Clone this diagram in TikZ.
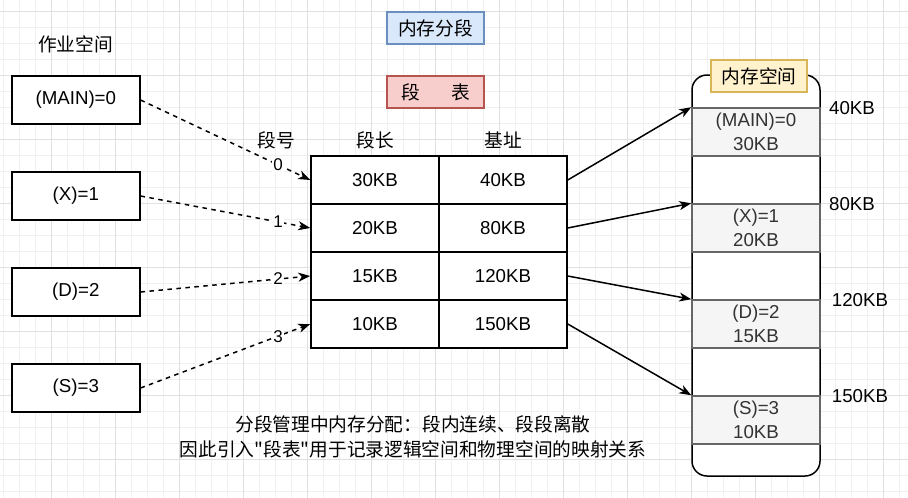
\documentclass[tikz,border=0pt]{standalone}
\usepackage{fontspec}
\setmainfont{Liberation Sans}
\newfontfamily\cjk{Noto Sans CJK SC}
\usetikzlibrary{arrows.meta}
\definecolor{blueF}{HTML}{DAE8FC}
\definecolor{blueD}{HTML}{6C8EBF}
\definecolor{redF}{HTML}{F8CECC}
\definecolor{redD}{HTML}{B85450}
\definecolor{yelF}{HTML}{FFF2CC}
\definecolor{yelD}{HTML}{D6B656}
\definecolor{segF}{HTML}{F5F5F5}
\definecolor{segD}{HTML}{666666}
\definecolor{segT}{HTML}{333333}
\tikzset{
  gridminor/.style={draw=black!6, line width=0.8pt},
  gridmajor/.style={draw=black!12, line width=0.8pt},
  txt/.style={font=\fontsize{18.7}{24}\selectfont, inner sep=0pt},
  cjktxt/.style={font=\cjk\fontsize{18.7}{24}\selectfont, inner sep=0pt},
  jobbox/.style={draw, line width=1.5pt, minimum width=128pt, minimum height=48pt, inner sep=0pt, font=\fontsize{18.7}{24}\selectfont, fill=white},
  cell/.style={draw, line width=1.5pt, minimum width=128pt, minimum height=48pt, inner sep=0pt, font=\fontsize{18.7}{24}\selectfont, fill=white},
  seg/.style={draw=segD, fill=segF, text=segT, line width=1.5pt, minimum width=128pt, minimum height=48pt, inner sep=0pt, align=center, font=\fontsize{18.7}{24}\selectfont},
  titlebox/.style={line width=1.5pt, minimum width=97pt, minimum height=32pt, inner sep=0pt, font=\cjk\fontsize{18.7}{24}\selectfont},
  dasharrow/.style={line width=1.5pt, dash pattern=on 4.5pt off 4.5pt, -{Stealth[length=12pt,width=9pt,inset=3.5pt]}},
  solidarrow/.style={line width=1.5pt, -{Stealth[length=12pt,width=9pt,inset=3.5pt]}},
  elabel/.style={fill=white, inner sep=1pt, font=\fontsize{17}{20}\selectfont},
}
\begin{document}
\begin{tikzpicture}[x=1pt,y=-1pt]
\useasboundingbox (0,0) rectangle (908,498);
\fill[white] (0,0) rectangle (908,498);
% grid
\foreach \i in {0,...,56} {
  \pgfmathsetmacro\xx{3.7+16*\i}
  \draw[gridminor] (\xx,0) -- (\xx,498);
}
\foreach \i in {0,...,30} {
  \pgfmathsetmacro\yy{11.7+16*\i}
  \draw[gridminor] (0,\yy) -- (908,\yy);
}
\foreach \i in {0,...,13} {
  \pgfmathsetmacro\xx{51.7+64*\i}
  \draw[gridmajor] (\xx,0) -- (\xx,498);
}
\foreach \i in {0,...,7} {
  \pgfmathsetmacro\yy{11.7+64*\i}
  \draw[gridmajor] (0,\yy) -- (908,\yy);
}

% titles
\node[titlebox, draw=blueD, fill=blueF] (t1) at (435.5,28) {内存分段};
\node[titlebox, draw=redD, fill=redF] (t2) at (435.5,92) {段\hspace{31.5pt}表};
\node[cjktxt] (job) at (75.5,44) {作业空间};

% job boxes
\node[jobbox] (j0) at (75.8,100) {(MAIN)=0};
\node[jobbox] (j1) at (75.8,196) {(X)=1};
\node[jobbox] (j2) at (75.8,292) {(D)=2};
\node[jobbox] (j3) at (75.8,388) {(S)=3};

% headers
\node[cjktxt] (h0) at (276,140) {段号};
\node[cjktxt] (h1) at (375,140) {段长};
\node[cjktxt] (h2) at (503,140) {基址};

% table
\node[cell] (l0) at (375,180) {30KB};
\node[cell] (b0) at (503,180) {40KB};
\node[cell] (l1) at (375,228) {20KB};
\node[cell] (b1) at (503,228) {80KB};
\node[cell] (l2) at (375,276) {15KB};
\node[cell] (b2) at (503,276) {120KB};
\node[cell] (l3) at (375,324) {10KB};
\node[cell] (b3) at (503,324) {150KB};

% memory space
\node[draw, line width=1.5pt, rounded corners=15pt, minimum width=128pt, minimum height=401pt, inner sep=0pt, fill=white] (mem) at (756,275.5) {};
\node[seg] (s0) at (756,132) {(MAIN)=0\\30KB};
\node[seg] (s1) at (756,228) {(X)=1\\20KB};
\node[seg] (s2) at (756,324) {(D)=2\\15KB};
\node[seg] (s3) at (756,420) {(S)=3\\10KB};
\node[titlebox, draw=yelD, fill=yelF, minimum width=96pt] (mlabel) at (759,76) {内存空间};

% addresses
\node[txt] (a0) at (852,108) {40KB};
\node[txt] (a1) at (852,204) {80KB};
\node[txt] (a2) at (860,300) {120KB};
\node[txt] (a3) at (860,396) {150KB};

% dashed arrows
\draw[dasharrow] (j0.east) -- node[elabel, pos=0.81] {0} (l0.west);
\draw[dasharrow] (j1.east) -- node[elabel, pos=0.81] {1} (l1.west);
\draw[dasharrow] (j2.east) -- node[elabel, pos=0.81] {2} (l2.west);
\draw[dasharrow] (j3.east) -- node[elabel, pos=0.81] {3} (l3.west);

% solid arrows
\draw[solidarrow] (b0.east) -- (s0.north west);
\draw[solidarrow] (b1.east) -- (s1.north west);
\draw[solidarrow] (b2.east) -- (s2.north west);
\draw[solidarrow] (b3.east) -- (s3.north west);

% bottom text
\node[cjktxt] (n1) at (413,424) {分段管理中内存分配：段内连续、段段离散};
\node[cjktxt] (n2) at (413,449) {因此引入"段表"用于记录逻辑空间和物理空间的映射关系};
\end{tikzpicture}
\end{document}
